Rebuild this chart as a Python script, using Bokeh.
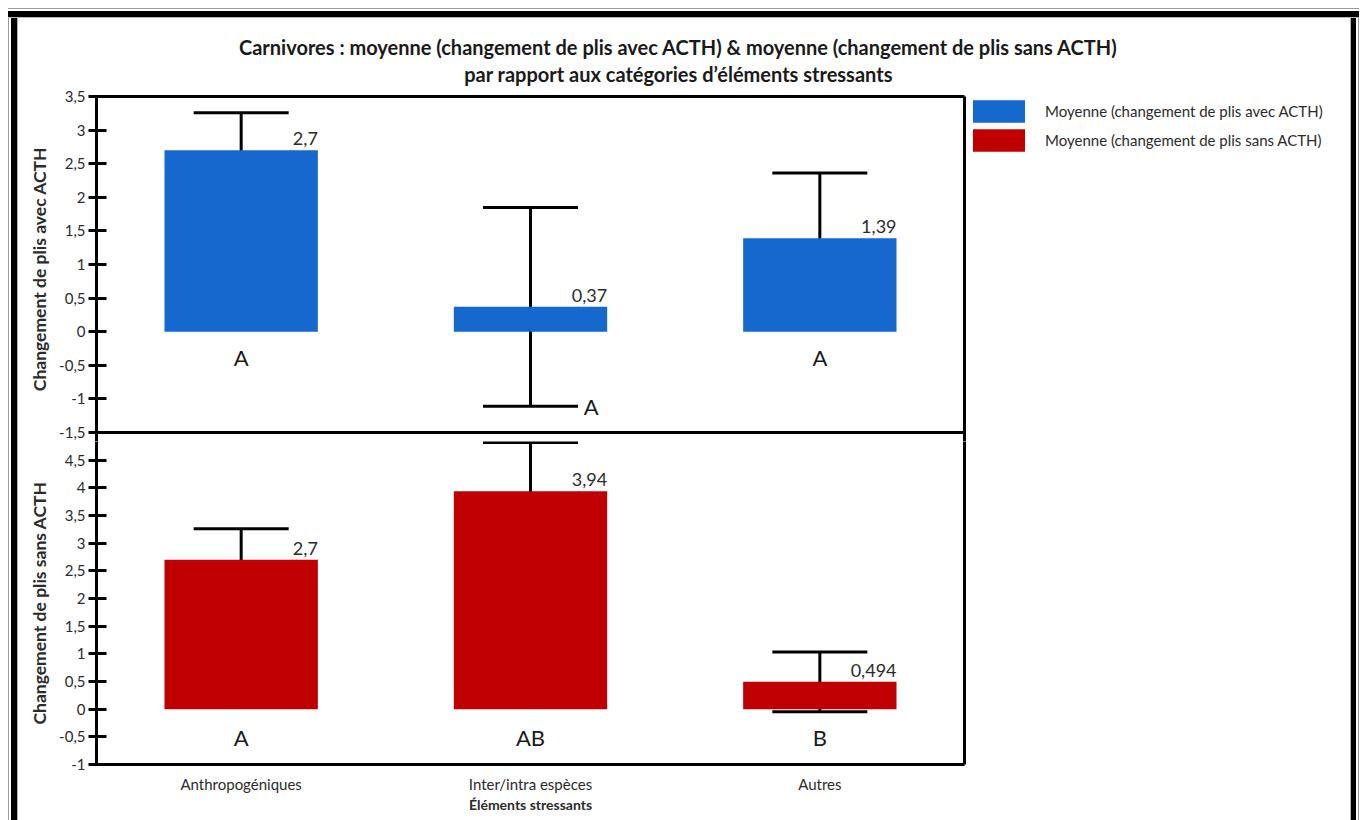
from bokeh.plotting import figure
from bokeh.models import (ColumnDataSource, FactorRange, Range1d, Whisker, TeeHead, LinearAxis, CategoricalAxis,
                          FixedTicker, CustomJSTickFormatter, Legend, LegendItem, Span, Spacer, Label)
from bokeh.layouts import column, row
from bokeh.transform import dodge
from bokeh.core.properties import value
from bokeh.embed import file_html
from bokeh.resources import INLINE

# ---------------- data ----------------
categories = ["Anthropogéniques", "Inter/intra espèces", "Autres"]
avec_mean = [2.7, 0.37, 1.39]
avec_err = [0.56, 1.48, 0.97]
sans_mean = [2.7, 3.94, 0.494]
sans_err = [0.56, 0.88, 0.54]
avec_text = ["2,7", "0,37", "1,39"]
sans_text = ["2,7", "3,94", "0,494"]
avec_letters = ["A", "A", "A"]
sans_letters = ["A", "AB", "B"]
avec_ticks = [-1.5, -1, -0.5, 0, 0.5, 1, 1.5, 2, 2.5, 3, 3.5]
sans_ticks = [-1, -0.5, 0, 0.5, 1, 1.5, 2, 2.5, 3, 3.5, 4, 4.5]
title_lines = ["Carnivores : moyenne (changement de plis avec ACTH) & moyenne (changement de plis sans ACTH)",
               "par rapport aux catégories d\u2019éléments stressants"]
legend_labels = ["Moyenne (changement de plis avec ACTH)", "Moyenne (changement de plis sans ACTH)"]

# ---------------- styling / layout ----------------
BLUE = "#1568CD"
RED = "#C00000"
FONT = "Lato"
TXT = "#2b2b2b"

PW = 948                    # width of the two panel figures
ML, MR = 78, 2
TITLE_W, TITLE_H = 1328, 68
OVER = 9                    # px of the upper figure that hang below the separator
P1_MT = 10
P1_FRAME = 336 + OVER       # upper frame height (px)
P2_FRAME = 332 - OVER       # lower frame height (px)
P2_MB = 56
BAR_W = 0.53

top_lo, top_hi = -1.5, 3.5
bot_lo, bot_hi = -1.0, 5.0
top_view_lo = top_lo - OVER * (top_hi - top_lo) / 336.0
bot_view_hi = bot_hi - OVER * (bot_hi - bot_lo) / 332.0

xr = FactorRange(*categories)
fmt_code = "return String(tick).replace('.', ',');"


def base_fig(height, yr, mt, mb):
    f = figure(x_range=xr, y_range=yr, width=PW, height=height,
               min_border_left=ML, min_border_right=MR, min_border_top=mt, min_border_bottom=mb,
               output_backend="svg", toolbar_location=None)
    f.xgrid.visible = False
    f.ygrid.visible = False
    f.background_fill_color = "white"
    f.border_fill_color = "white"
    f.outline_line_color = None
    # right frame edge drawn as a bare axis line
    f.add_layout(LinearAxis(ticker=FixedTicker(ticks=[]), axis_line_width=3, axis_line_color="black",
                            major_tick_out=0, major_tick_in=0, major_label_standoff=0,
                            minor_tick_line_color=None), "right")
    return f


def style_y(ax, label, ticks):
    ax.ticker = FixedTicker(ticks=ticks)
    ax.formatter = CustomJSTickFormatter(code=fmt_code)
    ax.axis_label = label
    ax.axis_label_text_font = FONT
    ax.axis_label_text_font_style = "bold"
    ax.axis_label_text_font_size = "17.5px"
    ax.axis_label_text_color = TXT
    ax.axis_label_standoff = 6
    ax.axis_line_width = 3
    ax.axis_line_color = "black"
    ax.major_tick_line_width = 3
    ax.major_tick_in = 10
    ax.major_tick_out = 8
    ax.minor_tick_line_color = None
    ax.major_label_text_font = FONT
    ax.major_label_text_font_size = "15px"
    ax.major_label_text_color = TXT
    ax.major_label_standoff = 3


def add_series(f, mean, err, text, color):
    src = ColumnDataSource(dict(
        cat=categories, mean=mean, text=text,
        upper=[m + e for m, e in zip(mean, err)],
        lower=[m - e for m, e in zip(mean, err)],
    ))
    r = f.vbar(x="cat", top="mean", bottom=0, width=BAR_W, source=src,
               fill_color=color, line_color=None)
    f.add_layout(Whisker(base="cat", upper="upper", lower="lower", source=src, dimension="height",
                         line_width=3, line_color="black",
                         upper_head=TeeHead(size=95, line_width=3, line_color="black"),
                         lower_head=TeeHead(size=95, line_width=3, line_color="black")))
    f.text(x=dodge("cat", BAR_W / 2, range=xr), y="mean", text="text", source=src,
           text_align="right", text_baseline="bottom", y_offset=-5,
           text_font=value(FONT), text_font_size="18px", text_color=TXT)
    return r


# ---- title ----
tf = figure(width=TITLE_W, height=TITLE_H, x_range=Range1d(0, TITLE_W), y_range=Range1d(TITLE_H, 0),
            min_border=0, x_axis_location=None, y_axis_location=None,
            output_backend="svg", toolbar_location=None)
tf.xgrid.visible = False
tf.ygrid.visible = False
tf.outline_line_color = None
for i, line in enumerate(title_lines):
    tf.add_layout(Label(x=TITLE_W / 2 - 4, y=28 + 27 * i, text=line, text_align="center",
                        text_baseline="middle", text_font=FONT, text_font_style="bold",
                        text_font_size="20px", text_color="#1a1a1a"))

# ---- upper panel : avec ACTH ----
p1 = base_fig(P1_MT + P1_FRAME, Range1d(top_view_lo, top_hi), P1_MT, 0)
p1.xaxis.visible = False
# top frame edge drawn as a bare categorical axis line
p1.add_layout(CategoricalAxis(axis_line_width=3, axis_line_color="black",
                              major_tick_out=0, major_tick_in=0, major_tick_line_color=None,
                              major_label_standoff=0, major_label_text_font_size="0px",
                              major_label_text_alpha=0), "above")
style_y(p1.yaxis[0], "Changement de plis avec ACTH", avec_ticks)
p1.add_layout(Span(location=top_lo, dimension="width", line_color="black", line_width=3))
r_a = add_series(p1, avec_mean, avec_err, avec_text, BLUE)

LETTER_Y_TOP = -0.38
lx, ly = [], []
for c, m, e in zip(categories, avec_mean, avec_err):
    if m - e < LETTER_Y_TOP - 0.3:      # letter sits next to the lower whisker cap
        lx.append((c, 0.21)); ly.append(m - e)
    else:
        lx.append((c, 0.0)); ly.append(LETTER_Y_TOP)
p1.text(x="x", y="y", text="t", source=ColumnDataSource(dict(x=lx, y=ly, t=avec_letters)),
        text_align="center", text_baseline="middle",
        text_font=value(FONT), text_font_size="22px", text_color="#1a1a1a")

# ---- lower panel : sans ACTH ----
p2 = base_fig(P2_FRAME + P2_MB, Range1d(bot_lo, bot_view_hi), 0, P2_MB)
style_y(p2.yaxis[0], "Changement de plis sans ACTH", sans_ticks)
r_s = add_series(p2, sans_mean, sans_err, sans_text, RED)

LETTER_Y_BOT = -0.52
p2.text(x="cat", y=LETTER_Y_BOT, text="t",
        source=ColumnDataSource(dict(cat=categories, t=sans_letters)),
        text_align="center", text_baseline="middle",
        text_font=value(FONT), text_font_size="22px", text_color="#1a1a1a")

xa = p2.xaxis[0]
xa.axis_line_color = "black"
xa.axis_line_width = 3
xa.major_tick_line_color = None
xa.major_tick_in = 0
xa.major_tick_out = 0
xa.minor_tick_line_color = None
xa.major_label_text_font = FONT
xa.major_label_text_font_size = "15px"
xa.major_label_text_color = TXT
xa.major_label_standoff = 10
xa.axis_label = "Éléments stressants"
xa.axis_label_text_font = FONT
xa.axis_label_text_font_style = "bold"
xa.axis_label_text_font_size = "14px"
xa.axis_label_text_color = TXT
xa.axis_label_standoff = 0

# ---- legend ----
lf = figure(width=380, height=70, min_border=0, x_axis_location=None, y_axis_location=None,
            output_backend="svg", toolbar_location=None)
lf.xgrid.visible = False
lf.ygrid.visible = False
lf.outline_line_color = None
la = lf.vbar(x=[0], top=[0], bottom=[0], width=0.5, fill_color=BLUE, line_color=None)
ls = lf.vbar(x=[0], top=[0], bottom=[0], width=0.5, fill_color=RED, line_color=None)
lf.add_layout(Legend(items=[LegendItem(label=legend_labels[0], renderers=[la]),
                            LegendItem(label=legend_labels[1], renderers=[ls])],
                     location="top_left", orientation="vertical",
                     glyph_width=65, glyph_height=28, spacing=1, label_standoff=14,
                     padding=0, margin=0, border_line_color=None, background_fill_alpha=0,
                     label_text_font=FONT, label_text_font_size="15px", label_text_color=TXT))

# ---- outer double frame ----
def stripe(w, h, direction, stops):
    return Spacer(width=w, height=h, styles={"background": f"linear-gradient({direction}, {stops})"})

outer = "#9a9a9a 0px, #9a9a9a 1px, #ffffff 1px, #ffffff 3px, #000000 3px, #000000 9px, #b5b5b5 9px, #b5b5b5 10px"
right = ("#ffffff 0px, #ffffff 4px, #b5b5b5 4px, #b5b5b5 5px, #000000 5px, #000000 10px, "
         "#ffffff 10px, #ffffff 12px, #9a9a9a 12px, #9a9a9a 13px")

inner_h = TITLE_H + (P1_MT + P1_FRAME) + (P2_FRAME + P2_MB)
inner = column(tf, row(column(p1, p2), column(Spacer(width=380, height=11), lf)))
framed = column(stripe(10 + TITLE_W + 13, 10, "to bottom", outer),
                row(stripe(10, inner_h, "to right", outer), inner, stripe(13, inner_h, "to right", right)))
layout = column(Spacer(width=1364, height=8), row(Spacer(width=8, height=10 + inner_h), framed))

open("out.html", "w").write(file_html(layout, INLINE))
